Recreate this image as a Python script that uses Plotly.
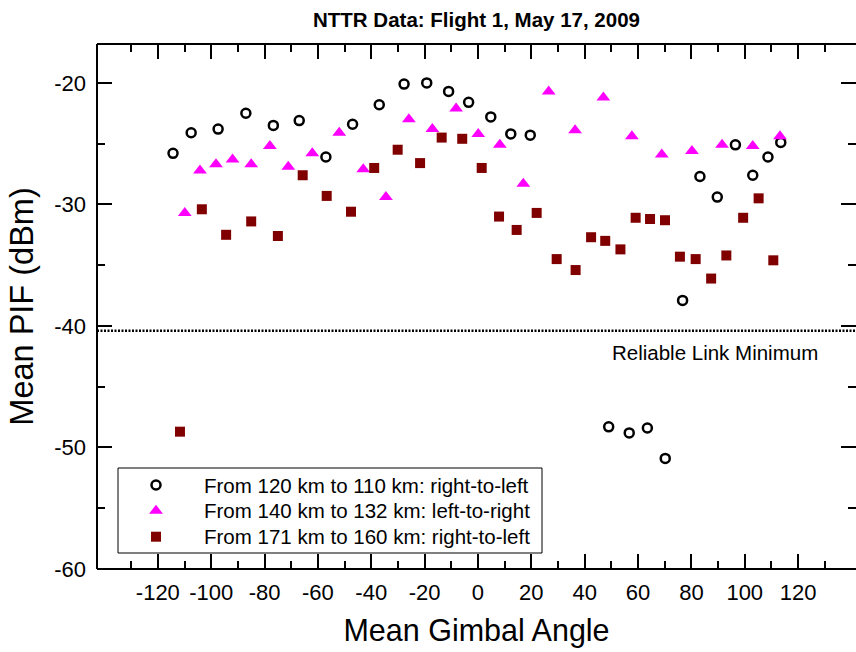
import plotly.graph_objects as go

# Mean gimbal angle (deg) and mean PIF (dBm) for each pass
pass1_angle = [-114.3, -107.5, -97.4, -87.0, -76.7, -67.0, -57.0, -47.0, -37.0, -27.7,
               -19.2, -11.0, -3.5, 4.8, 12.3, 19.6, 49.0, 56.7, 63.5, 70.2,
               76.7, 83.2, 89.7, 96.5, 103.0, 108.7, 113.5]
pass1_pif = [-25.8, -24.1, -23.8, -22.5, -23.5, -23.1, -26.1, -23.4, -21.8, -20.1,
             -20.0, -20.7, -21.6, -22.8, -24.2, -24.3, -48.3, -48.8, -48.4, -50.9,
             -37.9, -27.7, -29.4, -25.1, -27.6, -26.1, -24.9]

pass2_angle = [-109.9, -104.2, -98.2, -92.0, -85.0, -78.0, -71.1, -62.1, -52.0, -43.0,
               -34.5, -25.9, -17.1, -8.2, 0.1, 8.2, 17.0, 26.5, 36.4, 47.0,
               57.7, 68.9, 80.2, 91.5, 103.0, 113.2]
pass2_pif = [-30.7, -27.2, -26.7, -26.3, -26.7, -25.2, -26.9, -25.8, -24.1, -27.1,
             -29.4, -23.0, -23.8, -22.1, -24.2, -25.1, -28.3, -20.7, -23.9, -21.2,
             -24.4, -25.9, -25.6, -25.1, -25.2, -24.4]

pass3_angle = [-111.7, -103.5, -94.4, -85.0, -75.0, -65.7, -56.7, -47.6, -38.9, -30.1,
               -21.7, -13.6, -5.9, 1.4, 7.9, 14.5, 22.0, 29.5, 36.6, 42.4,
               47.7, 53.4, 59.1, 64.5, 70.1, 75.7, 81.6, 87.4, 93.1, 99.4,
               105.2, 110.7]
pass3_pif = [-48.7, -30.4, -32.5, -31.4, -32.6, -27.6, -29.3, -30.6, -27.0, -25.5,
             -26.6, -24.5, -24.6, -27.0, -31.0, -32.1, -30.7, -34.5, -35.4, -32.7,
             -33.0, -33.7, -31.1, -31.2, -31.3, -34.3, -34.5, -36.1, -34.2, -31.1,
             -29.5, -34.6]

pass_names = [
    "From 120 km to 110 km: right-to-left",
    "From 140 km to 132 km: left-to-right",
    "From 171 km to 160 km: right-to-left",
]

RELIABLE_MIN = -40.4
x_major = [-120, -100, -80, -60, -40, -20, 0, 20, 40, 60, 80, 100, 120]
x_labels = ["-120", "-100", "-80", "-60", "-40", "-20", "0", "20", "40", "60", "80", "100", "120"]
x_minor = [-130, -110, -90, -70, -50, -30, -10, 10, 30, 50, 70, 90, 110, 130]
y_major = [-60, -50, -40, -30, -20]
y_labels = ["-60", "-50", "-40", "-30", "-20"]
y_minor = [-55, -45, -35, -25]

FONT = "Liberation Sans, Arial, Helvetica, sans-serif"

# figure / plot-area geometry in pixels
W, H = 856, 652
ML, MR, MT, MB = 97, 0, 44, 83
PW, PH = W - ML - MR, H - MT - MB


def px_x(px):
    return (px - ML) / PW


def px_y(py):
    return (H - MB - py) / PH


markers = [
    dict(symbol="circle-open", size=9, color="black", line=dict(width=2.5, color="black")),
    dict(symbol="triangle-up", size=12, color="#FF00FF", line=dict(width=0)),
    dict(symbol="square", size=10, color="#800000", line=dict(width=0)),
]
series = [(pass1_angle, pass1_pif), (pass2_angle, pass2_pif), (pass3_angle, pass3_pif)]

fig = go.Figure()
for (ang, pif), name, mk in zip(series, pass_names, markers):
    fig.add_trace(go.Scatter(x=ang, y=pif, mode="markers", name=name, marker=mk,
                             showlegend=False))

# reliable link threshold
fig.add_shape(type="line", xref="paper", x0=0, x1=1, yref="y", y0=RELIABLE_MIN, y1=RELIABLE_MIN,
              line=dict(color="black", width=2.5, dash="2px,1.5px"), layer="above")
fig.add_annotation(x=89, y=-42.15, xref="x", yref="y", text="Reliable Link Minimum",
                   showarrow=False, font=dict(family=FONT, size=20.5, color="black"))

# legend box drawn on a unit overlay axis
LEG_L, LEG_R, LEG_T, LEG_B = 118, 542, 468, 553
LEG_SYM_X, LEG_TXT_X = 156, 202
LEG_ROWS = [485, 510.7, 536.7]
fig.add_shape(type="rect", xref="paper", yref="paper",
              x0=px_x(LEG_L), x1=px_x(LEG_R), y0=px_y(LEG_B), y1=px_y(LEG_T),
              line=dict(color="black", width=1), fillcolor="white", layer="below")
for row, name, mk in zip(LEG_ROWS, pass_names, markers):
    fig.add_trace(go.Scatter(x=[px_x(LEG_SYM_X)], y=[px_y(row)], mode="markers", marker=mk,
                             xaxis="x2", yaxis="y2", showlegend=False, hoverinfo="skip"))
    fig.add_annotation(x=px_x(LEG_TXT_X), y=px_y(row), xref="paper", yref="paper",
                       xanchor="left", yanchor="middle", text=name, showarrow=False,
                       font=dict(family=FONT, size=20.5, color="black"))

# frame: left, top and bottom edges
for x0, y0, x1, y1 in [(0, 0, 0, 1), (0, 1, 1, 1), (0, 0, 1, 0)]:
    fig.add_shape(type="line", xref="paper", yref="paper", x0=x0, y0=y0, x1=x1, y1=y1,
                  line=dict(color="black", width=2), layer="above")

fig.update_layout(
    width=W, height=H,
    margin=dict(l=ML, r=MR, t=MT, b=MB),
    paper_bgcolor="white", plot_bgcolor="white",
    font=dict(family=FONT, color="black"),
    title=dict(text="<b>NTTR Data: Flight 1, May 17, 2009</b>", xref="paper", x=0.5,
               xanchor="center", y=1 - 20 / H, yanchor="middle",
               font=dict(family=FONT, size=20.5)),
    showlegend=False,
    xaxis2=dict(overlaying="x", range=[0, 1], visible=False, fixedrange=True),
    yaxis2=dict(overlaying="y", range=[0, 1], visible=False, fixedrange=True),
    xaxis=dict(
        range=[-142.8, 141.7], showgrid=False, zeroline=False, showline=False,
        mirror="ticks", ticks="inside", ticklen=15, tickwidth=2, tickcolor="black",
        tickvals=x_major, ticktext=x_labels, tickfont=dict(size=22), ticklabelstandoff=8,
        minor=dict(tickvals=x_minor, ticks="inside", ticklen=8, tickwidth=2, tickcolor="black"),
        title=dict(text="Mean Gimbal Angle", font=dict(size=30.5), standoff=15),
    ),
    yaxis=dict(
        range=[-60, -16.8], showgrid=False, zeroline=False, showline=False,
        mirror="ticks", ticks="inside", ticklen=15, tickwidth=2, tickcolor="black",
        tickvals=y_major, ticktext=y_labels, tickfont=dict(size=22), ticklabelstandoff=10,
        minor=dict(tickvals=y_minor, ticks="inside", ticklen=8, tickwidth=2, tickcolor="black"),
        title=dict(text="Mean PIF (dBm)", font=dict(size=32.5), standoff=10),
    ),
)

fig.write_html("out.html")
